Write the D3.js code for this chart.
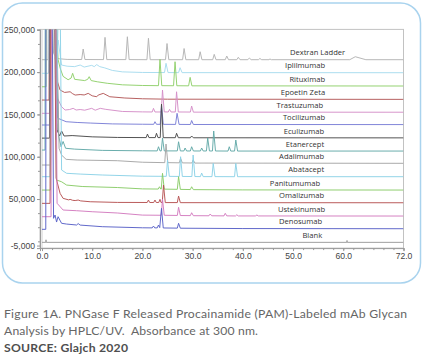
<!DOCTYPE html>
<html><head><meta charset="utf-8">
<script src="https://cdn.jsdelivr.net/npm/d3@7"></script>
<style>
html,body{margin:0;padding:0;background:#fff;}
svg{display:block;}
</style></head><body>
<svg id="c" width="423" height="357"></svg>
<script>
// ---------- data (retention time in min, absorbance) ----------
const seriesNames = ["Dextran Ladder","Iplilmumab","Rituximab","Epoetin Zeta","Trastuzumab","Tocilizumab","Eculizumab","Etanercept","Adalimumab","Abatacept","Panitumumab","Omalizumab","Ustekinumab","Denosumab","Blank"];
const baselines = [214700,199300,183600,167800,152600,138000,122300,106700,92200,76400,60600,45600,29900,14900,-1200];

const dextranLadder = [[0,214700],[1.2,214700],[1.3,300000],[2.0,300000],[2.3,222000],[3.0,216000],[5,215000],
 [7.9,214900],[8.2,227300],[8.55,214900],[12.25,214800],[12.55,241100],[12.9,214800],
 [16.7,214800],[17.0,241800],[17.35,214800],[20.9,214700],[21.2,240000],[21.55,214700],
 [24.6,214700],[24.9,233800],[25.25,214700],[28.0,214700],[28.3,227900],[28.65,214700],
 [31.2,214700],[31.5,224100],[31.85,214700],[34.0,214700],[34.3,221000],[34.65,214700],
 [36.5,214700],[36.8,219000],[37.15,214700],[38.8,214700],[39.1,217500],[39.45,214700],
 [41.0,214700],[41.3,216700],[41.65,214700],[43.1,214700],[43.4,216100],[43.75,214700],
 [45.2,214700],[45.4,215500],[45.7,214700],[61.3,214700],[62.4,218200],[64.5,214700],[72,214700]];
const iplilmumab = [[0,198600],[1.3,198600],[1.4,300000],[2.3,300000],[2.6,215000],[3.2,238000],[3.9,208400],[5.0,207000],[6.5,206500],[7.6,208400],[8.4,206000],[9.9,208000],[10.4,206500],[10.9,208900],[11.5,206500],[12.5,205000],[14,202000],[16,200300],[20,199600],
 [24.4,199500],[24.7,210400],[25.1,199500],[27.2,199400],[27.5,205200],[27.9,199400],[72,199300]];
const rituximab = [[0,182700],[0.8,182700],[0.85,300000],[2.6,300000],[3.2,215000],[3.6,205000],[4.2,195000],[5.2,191000],[5.8,193000],[6.1,198600],[6.5,191500],[8.5,190000],[9.1,191500],[9.4,194600],[9.8,190000],[11,188600],[13,186800],[16,185000],[20,184200],
 [23.2,184000],[23.5,215100],[23.85,184000],[26.2,183900],[26.5,212300],[26.85,183900],[29.2,183800],[29.5,193800],[29.85,183800],[72,183600]];
const epoetinZeta = [[0,167000],[1.4,167000],[1.5,300000],[2.4,300000],[3.0,190000],[3.6,178800],[4.5,176000],[5.6,176800],[6.1,174500],[6.6,172900],[7.6,173500],[8.4,173000],[9.2,174900],[10.0,172000],[10.9,170900],[11.2,172900],[12.2,174900],[13.5,170900],[16.5,169400],[20,168500],[25,168000],[72,167800]];
const trastuzumab = [[0,151300],[1.5,151300],[1.6,300000],[2.2,300000],[3.0,170000],[3.9,159100],[4.6,155200],[5.5,155800],[6.2,157200],[6.8,155200],[7.6,155800],[8.5,155000],[9.9,157200],[10.6,155000],[11.6,157200],[12.7,156000],[16,153500],[20,153000],
 [21.95,152900],[22.2,157200],[22.5,152900],[23.75,152900],[24.0,178800],[24.35,153000],[25.15,152900],[25.4,156000],[25.7,152900],[26.55,152900],[26.8,176800],[27.15,152900],[29.55,152800],[29.8,159900],[30.15,152700],[72,152600]];
const tocilizumab = [[0,137500],[1.6,137500],[1.7,300000],[2.6,300000],[3.2,145400],[4.8,141400],[7,140500],[9.6,139800],[14,138800],[20,138400],
 [22.25,138300],[22.5,141400],[22.8,138300],[23.55,138300],[23.8,161100],[24.15,138300],[26.6,138200],[26.9,151300],[27.3,138200],[29.55,138100],[29.8,142800],[30.15,138100],[72,138000]];
const eculizumab = [[0,122000],[1.5,122000],[1.6,300000],[2.5,300000],[3.0,131600],[3.5,124500],[3.9,130400],[4.4,124500],[6,125000],[10,123500],[15,122800],
 [20.75,122600],[21.0,126800],[21.3,122600],[22.55,122600],[22.8,127700],[23.1,122600],[23.55,122600],[23.8,162200],[24.15,122500],[26.55,122500],[26.8,127700],[27.15,122500],[29.55,122400],[29.8,124500],[30.15,122400],[72,122300]];
const etanercept = [[0,107900],[0.6,107900],[0.65,300000],[2.6,300000],[3.3,125000],[3.8,111800],[4.2,118000],[4.7,110000],[6.5,109000],[12,107500],[20,107000],
 [22.95,106900],[23.2,111800],[23.5,106900],[23.75,106900],[24.0,122100],[24.35,106900],[26.95,106900],[27.2,117700],[27.55,106900],[28.25,106800],[28.5,110300],[28.8,106800],[29.55,106800],[29.8,111800],[30.15,106800],
 [31.55,106800],[31.8,110300],[32.1,106800],[32.75,106800],[33.0,122100],[33.35,106800],[33.95,106800],[34.2,130400],[34.55,106800],[37.05,106700],[37.3,111800],[37.6,106700],[38.35,106700],[38.6,119700],[38.95,106700],[72,106700]];
const adalimumab = [[0,90200],[1.7,90200],[1.8,300000],[2.8,300000],[3.4,110000],[3.9,102000],[4.8,96900],[7,96100],[15,95300],[20,93500],
 [24.45,93000],[24.7,115000],[25.05,93000],[27.35,92800],[27.6,98100],[27.95,92700],[29.85,92600],[30.1,96100],[30.45,92500],[72,92200]];
const abatacept = [[0,76400],[1.6,76400],[1.7,300000],[2.4,300000],[2.8,120000],[3.3,300000],[3.6,300000],[3.9,84300],[4.9,80400],[7.6,79500],[12,78400],[20,77000],
 [24.75,76800],[25.0,96100],[25.35,76800],[27.35,76700],[27.6,100000],[27.95,76700],[29.85,76600],[30.1,102000],[30.45,76600],[31.55,76500],[31.8,80700],[32.1,76500],[33.85,76500],[34.1,92200],[34.45,76500],[38.35,76400],[38.6,92200],[38.95,76400],[72,76400]];
const panitumumab = [[0,60600],[1.7,60600],[1.8,300000],[2.6,300000],[2.9,72500],[3.9,70400],[4.9,66500],[8,64800],[15,63600],[20,62000],
 [23.15,61800],[23.4,64500],[23.65,61800],[23.75,61800],[24.0,80400],[24.35,61700],[26.95,61500],[27.2,76400],[27.55,61400],[29.55,61200],[29.8,64500],[30.15,61100],[40,60800],[72,60600]];
const omalizumab = [[0,44900],[1.6,44900],[1.7,300000],[2.5,300000],[2.8,75000],[3.6,56700],[4.2,50800],[5.3,49000],[5.6,49600],[6.1,48500],[6.6,48200],[7.2,48800],[7.7,47800],[9.6,46800],[15,46000],
 [20.95,45900],[21.2,48800],[21.45,45900],[22.25,45900],[22.5,48800],[22.75,45900],[23.25,45900],[23.5,49600],[23.7,45900],[23.95,45900],[24.2,66500],[24.55,45800],[26.95,45800],[27.2,53500],[27.55,45700],[72,45600]];
const ustekinumab = [[0,29100],[1.8,29100],[1.9,300000],[2.7,300000],[3.0,45000],[4.2,37000],[6.9,36200],[10,35000],[15,33500],[20,31000],
 [23.75,30800],[24.0,49600],[24.35,30800],[26.95,30600],[27.2,40200],[27.55,30500],[29.55,30400],[29.8,33800],[30.15,30300],[33.25,30200],[33.5,32300],[33.8,30200],[36.25,30100],[36.5,33100],[36.8,30100],[38.55,30000],[38.8,31400],[39.1,30000],[42.5,30000],[42.8,31100],[43.1,30000],[72,29900]];
const denosumab = [[0,14200],[0.75,14200],[0.8,300000],[2.0,300000],[2.3,27200],[2.6,31100],[2.9,22800],[3.2,29100],[3.9,21300],[4.9,20400],[6.9,19300],[7.2,21000],[7.6,19200],[12,17300],[20,16000],
 [21.95,15900],[22.2,18100],[22.45,15900],[22.95,15900],[23.2,19300],[23.45,16200],[23.8,39000],[24.15,15800],[26.95,15600],[27.2,21300],[27.55,15500],[40,15100],[72,14900]];
const blank = [[0,-1200],[0.75,-1200],[0.8,1800],[0.85,-1200],[60.7,-1200],[60.75,1000],[60.8,-1200],[72,-1200]];

const xTickValues = [0,10,20,30,40,50,60,72];
const xTickLabels = ["0.0","10.0","20.0","30.0","40.0","50.0","60.0","72.0"];
const yTickValues = [250000,200000,150000,100000,50000,-5000];
const yTickLabels = ["250,000","200,000","150,000","100,000","50,000","-5,000"];

const captionLines = ["Figure 1A. PNGase F Released Procainamide (PAM)-Labeled mAb Glycan","Analysis by HPLC/UV.\u00a0 Absorbance at 300 nm."];
const sourceLine = "SOURCE: Glajch 2020";

// ---------- styles ----------
const seriesColors = ["#b3b3b3","#a6dbee","#8fd06a","#b35858","#d58fc8","#7a7ed6","#4a4a4a","#62a9a8","#a5a5a5","#8cd2e7","#8acb68","#b65252","#d37bbf","#5961c7","#9a9a9a"];
const labelShift = [20,0,0,0,-2,0,-1,-1,-1,-1,-5,-1,0,-3,-3];
const seriesData = [dextranLadder,iplilmumab,rituximab,epoetinZeta,trastuzumab,tocilizumab,eculizumab,etanercept,adalimumab,abatacept,panitumumab,omalizumab,ustekinumab,denosumab,blank];
const series = seriesNames.map((n,i)=>({name:n, base:baselines[i], color:seriesColors[i], shift:labelShift[i], points:seriesData[i]}));

const svg = d3.select("#c");
const L=40, R=403.5, T=29.4, B=248.1;
const x = d3.scaleLinear().domain([-0.4,72]).range([L,R]);
const y = d3.scaleLinear().domain([-8000,250500]).range([B,T]);

// panel
svg.append("rect").attr("x",2.5).attr("y",3).attr("width",418).attr("height",280).attr("rx",20)
  .attr("fill","none").attr("stroke","#a9d3ee").attr("stroke-width",1.5);

// clip
svg.append("defs").append("clipPath").attr("id","pc").append("rect")
  .attr("x",L).attr("y",T).attr("width",R-L).attr("height",B-T);

// frame
svg.append("rect").attr("x",L).attr("y",T).attr("width",R-L).attr("height",B-T)
  .attr("fill","none").attr("stroke","#c2c2c2").attr("stroke-width",1);
svg.append("line").attr("x1",x(0)).attr("x2",x(0)).attr("y1",T).attr("y2",B).attr("stroke","#d0d0d0");

// axes
const yMinor = d3.range(0, 16).map(k=>k*50000/3).filter(v=>v<=250500);
svg.append("g").attr("transform",`translate(${L},0)`)
  .call(d3.axisLeft(y).tickValues(yMinor).tickSize(2).tickFormat(""))
  .call(g=>g.select(".domain").remove()).selectAll("line").attr("stroke","#999");
const gy = svg.append("g").attr("transform",`translate(${L},0)`)
  .call(d3.axisLeft(y).tickValues(yTickValues).tickFormat((d,i)=>yTickLabels[i]).tickSize(3).tickPadding(2));
gy.select(".domain").attr("stroke","#999");
gy.selectAll("line").attr("stroke","#999");
gy.selectAll("text").attr("font-family","Liberation Sans, Arial, sans-serif").attr("font-size",8.6).attr("fill","#444");

const xMinor = d3.range(0,73,2);
svg.append("g").attr("transform",`translate(0,${B})`)
  .call(d3.axisBottom(x).tickValues(xMinor).tickSize(2).tickFormat(""))
  .call(g=>g.select(".domain").remove()).selectAll("line").attr("stroke","#999");
const gx = svg.append("g").attr("transform",`translate(0,${B})`)
  .call(d3.axisBottom(x).tickValues(xTickValues).tickFormat((d,i)=>xTickLabels[i]).tickSize(3).tickPadding(2));
gx.select(".domain").attr("stroke","#999");
gx.selectAll("line").attr("stroke","#999");
gx.selectAll("text").attr("font-family","Liberation Sans, Arial, sans-serif").attr("font-size",8.6).attr("fill","#444");

// traces
const line = d3.line().x(d=>x(d[0])).y(d=>y(d[1]));
const gt = svg.append("g").attr("clip-path","url(#pc)");
gt.selectAll("path").data(series).join("path")
  .attr("d",d=>line(d.points)).attr("fill","none").attr("stroke",d=>d.color).attr("stroke-width",0.95)
  .attr("stroke-linejoin","round");

// labels
svg.append("g").selectAll("text").data(series).join("text")
  .attr("x",d=>x(56.4)+d.shift).attr("y",d=>y(d.base)-4.3).attr("text-anchor","end")
  .attr("font-family","Open Sans, Noto Sans, sans-serif").attr("font-size",7.6).attr("fill","#333")
  .text(d=>d.name);

// caption
const cap = svg.append("g").attr("font-family","Lato, Noto Sans, sans-serif").attr("font-size",12.2);
const capLens = [403, 254];
cap.selectAll("text.c").data(captionLines).join("text").attr("class","c")
  .attr("x",4).attr("y",(d,i)=>317.5+i*17).attr("fill","#666")
  .attr("textLength",(d,i)=>capLens[i]).attr("lengthAdjust","spacing").text(d=>d);
cap.append("text").attr("x",4).attr("y",351.5).attr("fill","#4f4f4f").attr("font-weight","bold")
  .attr("textLength",124).attr("lengthAdjust","spacing").text(sourceLine);
</script>
</body></html>
